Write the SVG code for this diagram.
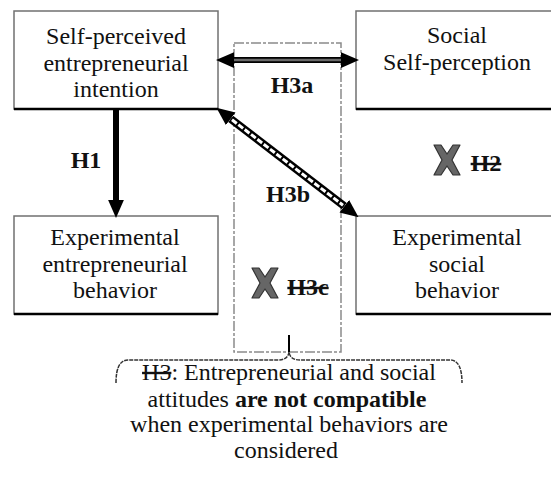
<svg xmlns="http://www.w3.org/2000/svg" width="551" height="483" viewBox="0 0 551 483" font-family="Liberation Serif">
<defs>
<marker id="ah" markerUnits="userSpaceOnUse" markerWidth="18" markerHeight="16" refX="0" refY="7" orient="auto-start-reverse" viewBox="0 0 16 14">
<path d="M0,0 L16,7 L0,14 z" fill="#000"/>
</marker>
<path id="xm" d="M-13,-15 L-6,-15 L0,-6 L6,-15 L13,-15 L5,0 L13,15 L6,15 L0,6 L-6,15 L-13,15 L-5,0 z" fill="#666" stroke="#333" stroke-width="1.2" stroke-linejoin="round"/>
</defs>
<rect width="551" height="483" fill="#fff"/>
<g id="frame">
<rect x="234" y="43" width="107" height="309" fill="none" stroke="#8a8a8a" stroke-width="1.5" stroke-dasharray="10 2 3 2"/>
</g>
<g id="n1">
<rect x="14" y="11" width="204" height="98" fill="#fff" stroke="#707070" stroke-width="1.5"/>
<line x1="14" y1="109" x2="218" y2="109" stroke="#000" stroke-width="2.5"/>
<text style="font-family:'Liberation Serif',serif;font-size:24px" fill="#111" text-anchor="middle" x="116" y="44">Self-perceived</text>
<text style="font-family:'Liberation Serif',serif;font-size:24px" fill="#111" text-anchor="middle" x="116" y="71">entrepreneurial</text>
<text style="font-family:'Liberation Serif',serif;font-size:24px" fill="#111" text-anchor="middle" x="116" y="97">intention</text>
</g>
<g id="n2">
<rect x="356" y="11" width="202" height="98" fill="#fff" stroke="#707070" stroke-width="1.5"/>
<line x1="356" y1="109" x2="558" y2="109" stroke="#000" stroke-width="2.5"/>
<text style="font-family:'Liberation Serif',serif;font-size:24px" fill="#111" text-anchor="middle" x="457" y="43">Social</text>
<text style="font-family:'Liberation Serif',serif;font-size:24px" fill="#111" text-anchor="middle" x="457" y="70">Self-perception</text>
</g>
<g id="n3">
<rect x="14" y="216" width="204" height="98" fill="#fff" stroke="#707070" stroke-width="1.5"/>
<line x1="14" y1="314" x2="218" y2="314" stroke="#000" stroke-width="2.5"/>
<text style="font-family:'Liberation Serif',serif;font-size:24px" fill="#111" text-anchor="middle" x="115" y="245">Experimental</text>
<text style="font-family:'Liberation Serif',serif;font-size:24px" fill="#111" text-anchor="middle" x="115" y="272">entrepreneurial</text>
<text style="font-family:'Liberation Serif',serif;font-size:24px" fill="#111" text-anchor="middle" x="115" y="298">behavior</text>
</g>
<g id="n4">
<rect x="356" y="216" width="202" height="98" fill="#fff" stroke="#707070" stroke-width="1.5"/>
<line x1="356" y1="314" x2="558" y2="314" stroke="#000" stroke-width="2.5"/>
<text style="font-family:'Liberation Serif',serif;font-size:24px" fill="#111" text-anchor="middle" x="457" y="245">Experimental</text>
<text style="font-family:'Liberation Serif',serif;font-size:24px" fill="#111" text-anchor="middle" x="457" y="272">social</text>
<text style="font-family:'Liberation Serif',serif;font-size:24px" fill="#111" text-anchor="middle" x="457" y="298">behavior</text>
</g>
<g id="connectors">
<line x1="116" y1="109" x2="116" y2="200" stroke="#000" stroke-width="6" marker-end="url(#ah)"/>
<line x1="234" y1="60" x2="341" y2="60" stroke="#000" stroke-width="6" marker-start="url(#ah)" marker-end="url(#ah)"/>
<line x1="234" y1="60" x2="341" y2="60" stroke="#6a6a6a" stroke-width="2.5"/>
<line x1="230.7" y1="118.8" x2="344.3" y2="206.2" stroke="#000" stroke-width="8" marker-start="url(#ah)" marker-end="url(#ah)"/>
<line x1="232" y1="119.8" x2="343" y2="205.2" stroke="#fff" stroke-width="3" stroke-dasharray="6 2"/>
<text style="font-family:'Liberation Serif',serif;font-size:24px;font-weight:bold" fill="#111" text-anchor="middle" x="86" y="168">H1</text>
<text style="font-family:'Liberation Serif',serif;font-size:24px;font-weight:bold" fill="#111" text-anchor="middle" x="292" y="93">H3a</text>
<text style="font-family:'Liberation Serif',serif;font-size:24px;font-weight:bold" fill="#111" text-anchor="middle" x="288" y="202">H3b</text>
</g>
<g id="rejected">
<use href="#xm" x="447" y="160"/>
<text style="font-family:'Liberation Serif',serif;font-size:24px;font-weight:bold;text-decoration:line-through" fill="#111" text-anchor="middle" x="486" y="171">H2</text>
<use href="#xm" x="265" y="283"/>
<text style="font-family:'Liberation Serif',serif;font-size:24px;font-weight:bold;text-decoration:line-through" fill="#111" text-anchor="middle" x="308" y="295">H3c</text>
</g>
<g id="summary">
<line x1="289" y1="335" x2="289" y2="352" stroke="#000" stroke-width="2"/>
<path d="M116,383 Q116,360 128,360 L278,360 Q288,360 289,352 Q290,360 300,360 L450,360 Q462,360 462,383" fill="none" stroke="#333" stroke-width="1.5" stroke-dasharray="4 1"/>
<text style="font-family:'Liberation Serif',serif;font-size:24px" fill="#111" text-anchor="middle" x="289" y="380"><tspan style="text-decoration:line-through">H3</tspan>: Entrepreneurial and social</text>
<text style="font-family:'Liberation Serif',serif;font-size:24px" fill="#111" text-anchor="middle" x="287" y="407">attitudes <tspan style="font-weight:bold">are not compatible</tspan></text>
<text style="font-family:'Liberation Serif',serif;font-size:24px" fill="#111" text-anchor="middle" x="289" y="432">when experimental behaviors are</text>
<text style="font-family:'Liberation Serif',serif;font-size:24px" fill="#111" text-anchor="middle" x="286" y="458">considered</text>
</g>
</svg>
